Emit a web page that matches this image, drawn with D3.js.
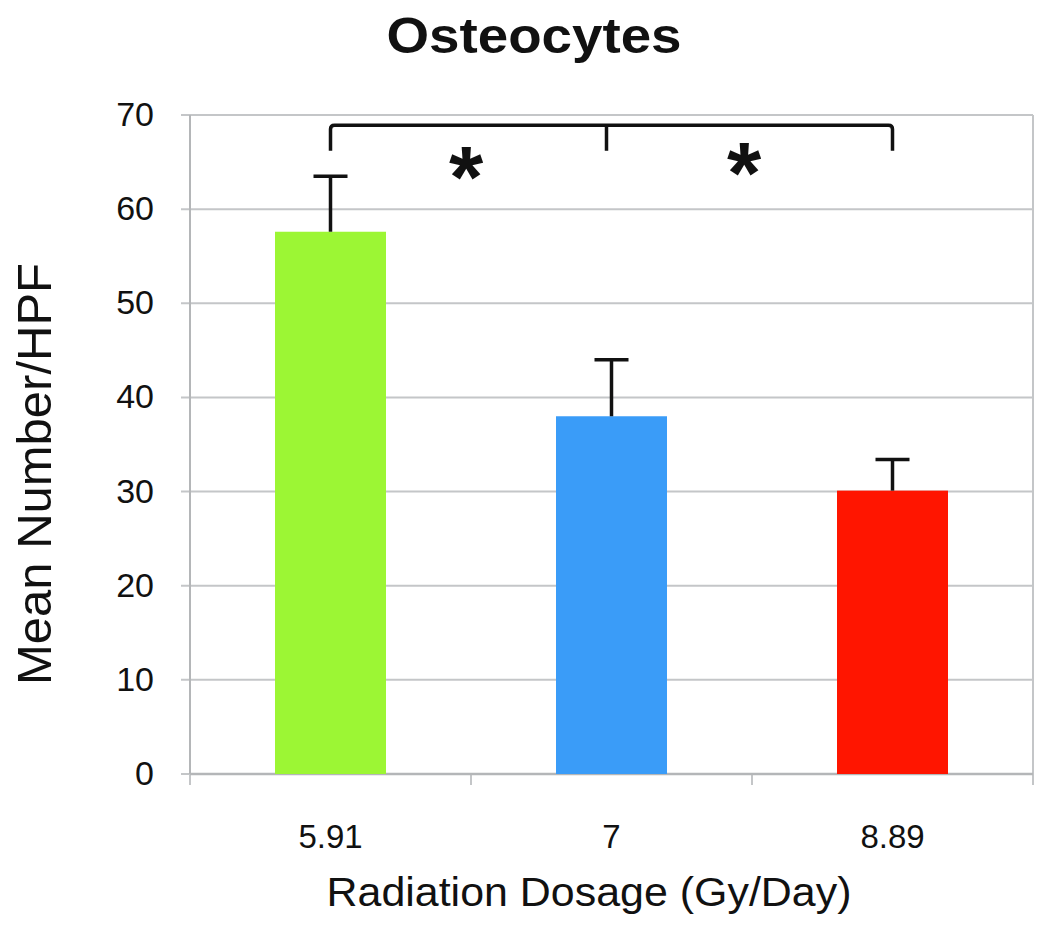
<!DOCTYPE html>
<html>
<head>
<meta charset="utf-8">
<script src="https://cdn.jsdelivr.net/npm/d3@7"></script>
<style>
  html, body { margin: 0; padding: 0; background: #fff; }
  svg { display: block; }
  text { font-family: "Liberation Sans", Arial, sans-serif; fill: #111; }
</style>
</head>
<body>
<svg id="chart" width="1050" height="940"></svg>
<script>
// ---- data ----
const categories = ["5.91", "7", "8.89"];
const means = [57.6, 38.0, 30.1];
const errors = [5.9, 6.0, 3.3];
const barColors = ["#9cf634", "#3a9cf8", "#ff1500"];
const yTicks = [0, 10, 20, 30, 40, 50, 60, 70];
const bracketLevel = 68.9;
const bracketDrop = 66.2;
const sigMarks = [{ from: 0, to: 1, label: "*" }, { from: 1, to: 2, label: "*" }];
const titleText = "Osteocytes";
const xTitle = "Radiation Dosage (Gy/Day)";
const yTitle = "Mean Number/HPF";

// ---- layout ----
const svg = d3.select("#chart");
const pLeft = 190, pRight = 1033, pTop = 115, pBottom = 774;

const x = d3.scaleBand().domain(categories).range([pLeft, pRight]).paddingInner(0).paddingOuter(0);
const y = d3.scaleLinear().domain([0, 70]).range([pBottom, pTop]);
const barW = x.bandwidth() * 0.395;

// gridlines
svg.append("g").selectAll("line").data(yTicks).join("line")
  .attr("x1", pLeft - 9).attr("x2", pRight)
  .attr("y1", d => y(d)).attr("y2", d => y(d))
  .attr("stroke", "#c4c6c8").attr("stroke-width", 2);

// left axis and right border
svg.append("line").attr("x1", pLeft).attr("x2", pLeft).attr("y1", pTop).attr("y2", pBottom + 2)
  .attr("stroke", "#b4b6b8").attr("stroke-width", 2);
svg.append("line").attr("x1", pRight).attr("x2", pRight).attr("y1", pTop).attr("y2", pBottom + 10)
  .attr("stroke", "#c4c6c8").attr("stroke-width", 2);

// x-axis category boundary ticks
const bounds = categories.map(c => x(c)).concat([pRight]);
svg.append("g").selectAll("line").data(bounds).join("line")
  .attr("x1", d => d).attr("x2", d => d)
  .attr("y1", pBottom).attr("y2", pBottom + 11)
  .attr("stroke", "#c4c6c8").attr("stroke-width", 2);
svg.append("line").attr("x1", pLeft).attr("x2", pRight).attr("y1", pBottom).attr("y2", pBottom)
  .attr("stroke", "#b4b6b8").attr("stroke-width", 2.5);

// y tick labels
svg.append("g").selectAll("text").data(yTicks).join("text")
  .attr("x", 154).attr("y", d => y(d) + 2)
  .attr("text-anchor", "end").attr("dominant-baseline", "middle")
  .attr("font-size", 34)
  .text(d => d);

// bars
svg.append("g").selectAll("rect").data(categories).join("rect")
  .attr("x", c => x(c) + x.bandwidth() / 2 - barW / 2)
  .attr("width", barW)
  .attr("y", (c, i) => y(means[i]))
  .attr("height", (c, i) => y(0) - y(means[i]))
  .attr("fill", (c, i) => barColors[i]);

// error bars (upper only)
const eb = svg.append("g").attr("stroke", "#111").attr("stroke-width", 3.5);
categories.forEach((c, i) => {
  const cx = x(c) + x.bandwidth() / 2;
  eb.append("line").attr("x1", cx).attr("x2", cx)
    .attr("y1", y(means[i])).attr("y2", y(means[i] + errors[i]));
  eb.append("line").attr("x1", cx - 17).attr("x2", cx + 17)
    .attr("y1", y(means[i] + errors[i])).attr("y2", y(means[i] + errors[i]));
});

// significance bracket
const cxs = categories.map(c => x(c) + x.bandwidth() / 2);
const bY = y(bracketLevel), dY = y(bracketDrop);
const r = 4;
const path = d3.path();
path.moveTo(cxs[0], dY);
path.lineTo(cxs[0], bY + r);
path.quadraticCurveTo(cxs[0], bY, cxs[0] + r, bY);
path.lineTo(cxs[2] - r, bY);
path.quadraticCurveTo(cxs[2], bY, cxs[2], bY + r);
path.lineTo(cxs[2], dY);
svg.append("path").attr("d", path.toString())
  .attr("fill", "none").attr("stroke", "#111").attr("stroke-width", 3.5);
svg.append("line").attr("x1", cxs[1] - 5).attr("x2", cxs[1] - 5).attr("y1", bY).attr("y2", dY)
  .attr("stroke", "#111").attr("stroke-width", 3.5);

// stars
svg.append("g").selectAll("text").data(sigMarks).join("text")
  .attr("x", (d, i) => (cxs[d.from] + cxs[d.to]) / 2 - 5 + (i === 0 ? 0 : -3))
  .attr("y", (d, i) => i === 0 ? 207 : 203)
  .attr("text-anchor", "middle")
  .attr("font-family", "'DejaVu Sans', sans-serif")
  .attr("font-size", 88).attr("font-weight", "bold")
  .text(d => d.label);

// x tick labels
svg.append("g").selectAll("text").data(categories).join("text")
  .attr("x", c => x(c) + x.bandwidth() / 2)
  .attr("y", 848)
  .attr("text-anchor", "middle")
  .attr("font-size", 33)
  .text(c => c);

// titles
svg.append("text").attr("x", 534).attr("y", 53)
  .attr("text-anchor", "middle").attr("font-size", 50).attr("font-weight", "bold")
  .attr("textLength", 295).attr("lengthAdjust", "spacingAndGlyphs")
  .text(titleText);

svg.append("text").attr("x", 589).attr("y", 906)
  .attr("text-anchor", "middle").attr("font-size", 41)
  .attr("textLength", 525).attr("lengthAdjust", "spacingAndGlyphs")
  .text(xTitle);

svg.append("text")
  .attr("transform", "translate(51,474) rotate(-90)")
  .attr("text-anchor", "middle").attr("font-size", 49)
  .text(yTitle);
</script>
</body>
</html>
